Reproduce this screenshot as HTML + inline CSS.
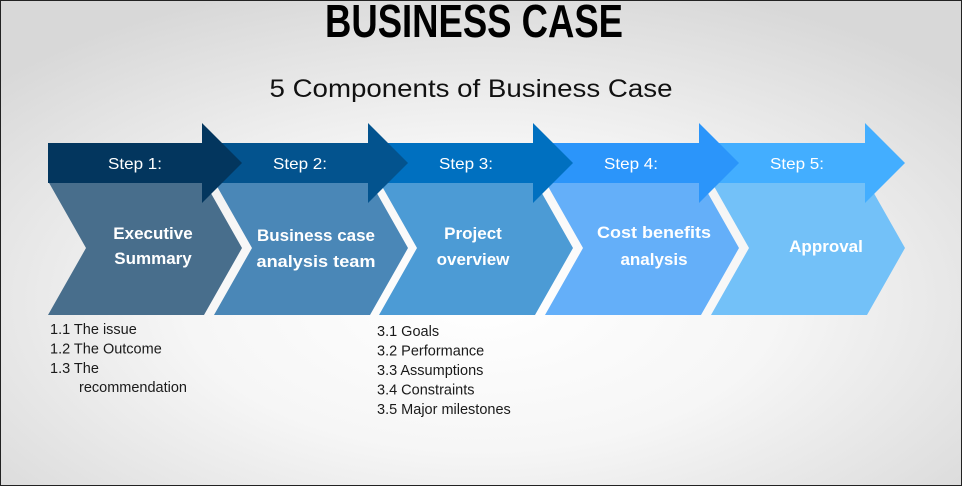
<!DOCTYPE html>
<html><head><meta charset="utf-8"><style>
html,body{margin:0;padding:0;background:#fff;}
svg{display:block;}
text{font-family:"Liberation Sans",Arial,sans-serif;}
</style></head><body>
<svg width="962" height="486" viewBox="0 0 962 486" xmlns="http://www.w3.org/2000/svg">
<defs>
<radialGradient id="bg" cx="50%" cy="62%" r="68%">
<stop offset="0" stop-color="#ffffff"/>
<stop offset="0.45" stop-color="#f6f6f6"/>
<stop offset="1" stop-color="#d8d8d8"/>
</radialGradient>
</defs>
<rect x="0" y="0" width="962" height="486" fill="url(#bg)"/>
<rect x="0.5" y="0.5" width="961" height="485" fill="none" stroke="#222" stroke-width="1"/>

<text x="474" y="37" font-size="46" font-weight="bold" fill="#000" text-anchor="middle" textLength="298" lengthAdjust="spacingAndGlyphs">BUSINESS CASE</text>
<text x="471" y="97" font-size="25" fill="#111" text-anchor="middle" textLength="403" lengthAdjust="spacingAndGlyphs">5 Components of Business Case</text>

<!-- chevrons -->
<polygon points="48,181 204,181 242,248 204,315 48,315 86,248" fill="#486e8c"/>
<polygon points="214,181 370,181 408,248 370,315 214,315 252,248" fill="#4a87b7"/>
<polygon points="379,181 535,181 573,248 535,315 379,315 417,248" fill="#4c9bd5"/>
<polygon points="545,181 701,181 739,248 701,315 545,315 583,248" fill="#64aff9"/>
<polygon points="711,181 867,181 905,248 867,315 711,315 749,248" fill="#73c1f8"/>

<!-- arrows (step 5 first so step 1 is on top) -->
<polygon points="697,143 865,143 865,123 905,163 865,203 865,183 697,183" fill="#43aeff"/>
<polygon points="531,143 699,143 699,123 739,163 699,203 699,183 531,183" fill="#2b95fa"/>
<polygon points="366,143 533,143 533,123 573,163 533,203 533,183 366,183" fill="#0070c0"/>
<polygon points="200,143 368,143 368,123 408,163 368,203 368,183 200,183" fill="#03538e"/>
<polygon points="48,143 202,143 202,123 242,163 202,203 202,183 48,183" fill="#03365e"/>

<!-- step labels -->
<g font-size="16" fill="#ffffff" text-anchor="middle">
<text x="135" y="169" textLength="54" lengthAdjust="spacingAndGlyphs">Step 1:</text>
<text x="300" y="169" textLength="54" lengthAdjust="spacingAndGlyphs">Step 2:</text>
<text x="466" y="169" textLength="54" lengthAdjust="spacingAndGlyphs">Step 3:</text>
<text x="631" y="169" textLength="54" lengthAdjust="spacingAndGlyphs">Step 4:</text>
<text x="797" y="169" textLength="54" lengthAdjust="spacingAndGlyphs">Step 5:</text>
</g>

<!-- chevron labels -->
<g font-size="17" font-weight="bold" fill="#ffffff" text-anchor="middle">
<text x="153" y="239">Executive</text>
<text x="153" y="264">Summary</text>
<text x="316" y="241" textLength="118" lengthAdjust="spacingAndGlyphs">Business case</text>
<text x="316" y="267" textLength="119" lengthAdjust="spacingAndGlyphs">analysis  team</text>
<text x="473" y="239">Project</text>
<text x="473" y="265">overview</text>
<text x="654" y="238" textLength="114" lengthAdjust="spacingAndGlyphs">Cost benefits</text>
<text x="654" y="265">analysis</text>
<text x="826" y="252">Approval</text>
</g>

<!-- sub lists -->
<g font-size="14.5" fill="#1a1a1a">
<text x="50" y="334">1.1 The issue</text>
<text x="50" y="353.5">1.2 The Outcome</text>
<text x="50" y="373">1.3 The</text>
<text x="79" y="392">recommendation</text>
<text x="377" y="336">3.1 Goals</text>
<text x="377" y="355.5">3.2 Performance</text>
<text x="377" y="375">3.3 Assumptions</text>
<text x="377" y="394.5">3.4 Constraints</text>
<text x="377" y="414">3.5 Major milestones</text>
</g>
</svg>
</body></html>
